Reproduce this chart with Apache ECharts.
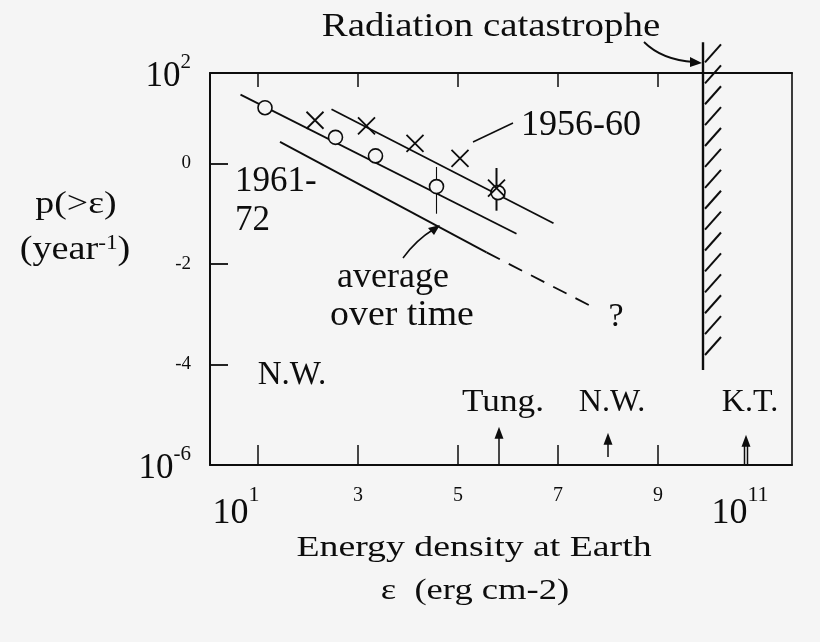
<!DOCTYPE html>
<html><head><meta charset="utf-8">
<script src="https://cdn.jsdelivr.net/npm/echarts@6/dist/echarts.min.js"></script>
<style>html,body{margin:0;padding:0;background:#f5f5f5}#c{width:820px;height:642px}</style>
</head><body><div id="c"></div>
<script>
// axis ranges, in decades (log10)
const xRange = [0.04, 11.68];
const yRange = [-6, 1.8];
const xTickValues = [1, 3, 5, 7, 9];
const xLabelValues = [1, 3, 5, 7, 9, 11];
const xLabelTexts = ['1', '3', '5', '7', '9', '11'];
const xLabelPowers = [true, false, false, false, false, true];
const yTickValues = [-4, -2, 0];
const yLabelValues = [-6, -4, -2, 0, 1.8];
const yLabelTexts = ['-6', '-4', '-2', '0', '2'];
const yLabelPowers = [true, false, false, false, true];

// observations (log10 energy density, log10 rate)
const circleX = [1.14, 2.55, 3.35, 4.57, 5.80];
const circleY = [1.11, 0.52, 0.15, -0.46, -0.58];
const crossX = [2.14, 3.17, 4.14, 5.04, 5.77];
const crossY = [0.86, 0.75, 0.40, 0.10, -0.49];
const errX = [4.57, 5.77];
const errLow = [-1.00, -0.94];
const errHigh = [-0.07, -0.09];
// fitted lines
const fit6172X = [0.65, 6.17], fit6172Y = [1.37, -1.40];
const fit5660X = [2.47, 6.91], fit5660Y = [1.08, -1.19];
const avgX = [1.44, 5.57], avgY = [0.43, -1.77];
const avgExtX = [5.57, 7.72], avgExtY = [-1.77, -2.87];
// radiation catastrophe barrier
const barrierX = 9.9, barrierTop = 2.41, barrierBottom = -4.11;
// events on the energy axis
const eventNames = ['Tung.', 'N.W.', 'K.T.'];
const eventX = [5.82, 8.0, 10.76];
const eventFrom = [-6, -5.84, -6];
const eventTo = [-5.24, -5.36, -5.40];
const eventDouble = [0, 0, 1];

const FONT = '"Liberation Serif", "Times New Roman", serif';
const INK = '#0d0d0d';
const BG = '#f5f5f5';

const zip = (a, b) => a.map((v, i) => [v, b[i]]);

const chart = echarts.init(document.getElementById('c'), null, {renderer: 'canvas'});

function xFmt(v) {
  const i = xLabelValues.indexOf(v);
  if (i < 0) return '';
  if (xLabelPowers[i]) return '{b|10}{' + (v === 1 ? 's1' : 's11') + '|' + xLabelTexts[i] + '}';
  return '{n|' + xLabelTexts[i] + '}';
}
function yFmt(v) {
  const i = yLabelValues.findIndex(u => Math.abs(u - v) < 1e-6);
  if (i < 0) return '';
  if (yLabelPowers[i]) return '{b|10}{s|' + yLabelTexts[i] + '}';
  return '{n|' + yLabelTexts[i] + '}';
}

function renderErr(params, api) {
  const a = api.coord([api.value(0), api.value(1)]);
  const b = api.coord([api.value(0), api.value(2)]);
  return {type: 'line', shape: {x1: a[0], y1: a[1], x2: b[0], y2: b[1]},
    style: {stroke: INK, lineWidth: params.dataIndex === 1 ? 2 : 1.1}};
}
function renderBarrier(params, api) {
  const top = api.coord([api.value(0), api.value(1)]);
  const bot = api.coord([api.value(0), api.value(2)]);
  const children = [{type: 'line', shape: {x1: top[0], y1: top[1], x2: bot[0], y2: bot[1]},
    style: {stroke: INK, lineWidth: 2.4}}];
  for (let y = bot[1] - 15; y >= top[1] + 18; y -= 20.9) {
    children.push({type: 'line', shape: {x1: top[0] + 2, y1: y, x2: top[0] + 18, y2: y - 18},
      style: {stroke: INK, lineWidth: 2}});
  }
  return {type: 'group', children};
}
function renderEvent(params, api) {
  const i = params.dataIndex;
  const x = api.value(0);
  const p0 = api.coord([x, api.value(1)]);
  const p1 = api.coord([x, api.value(2)]);
  const base = api.coord([x, yRange[0]]);
  const children = [];
  const shafts = api.value(3) ? [-1.5, 1.5] : [0];
  shafts.forEach(d => children.push({type: 'line',
    shape: {x1: p0[0] + d, y1: p0[1], x2: p1[0] + d, y2: p1[1] + 8},
    style: {stroke: INK, lineWidth: 1.5}}));
  children.push({type: 'polygon',
    shape: {points: [[p1[0], p1[1]], [p1[0] - 4.5, p1[1] + 12], [p1[0] + 4.5, p1[1] + 12]]},
    style: {fill: INK}});
  children.push({type: 'text', x: p1[0] + 4, y: base[1] - 62, scaleX: i === 0 ? 1.1 : 1,
    style: {text: eventNames[i], fontSize: 32, fontFamily: FONT, fill: INK,
      align: 'center', verticalAlign: 'middle'}});
  return {type: 'group', children};
}

function txt(text, x, y, fs, align, sx) {
  return {type: 'text', x: x, y: y, scaleX: sx || 1, z: 100,
    style: {text: text, fontSize: fs, fontFamily: FONT, fill: INK,
      align: align || 'center', verticalAlign: 'middle'}};
}

const axisCommon = {
  type: 'value', splitLine: {show: false},
  axisLine: {show: true, onZero: false, lineStyle: {color: INK, width: 2}}
};

const option = {
  backgroundColor: BG,
  animation: false,
  grid: {left: 210, right: 28, top: 73, bottom: 177},
  xAxis: [
    Object.assign({}, axisCommon, {
      position: 'bottom', min: xRange[0], max: xRange[1],
      axisTick: {show: true, inside: true, length: 20, customValues: xTickValues,
        lineStyle: {color: INK, width: 1.5}},
      axisLabel: {show: true, customValues: xLabelValues, margin: 19, formatter: xFmt,
        color: INK, fontFamily: FONT,
        rich: {
          b: {fontSize: 36, fontFamily: FONT, color: INK, verticalAlign: 'bottom', padding: [12, 0, 0, 0]},
          s1: {fontSize: 22, fontFamily: FONT, color: INK, verticalAlign: 'top', padding: [0, 44, 0, 0]},
          s11: {fontSize: 22, fontFamily: FONT, color: INK, verticalAlign: 'top', padding: [0, 36, 0, 0]},
          n: {fontSize: 20, fontFamily: FONT, color: INK, verticalAlign: 'top', padding: [2, 0, 0, 0]}
        }}
    }),
    Object.assign({}, axisCommon, {
      position: 'top', min: xRange[0], max: xRange[1],
      axisTick: {show: true, inside: true, length: 14, customValues: xTickValues,
        lineStyle: {color: INK, width: 1.5}},
      axisLabel: {show: false}
    })
  ],
  yAxis: [
    Object.assign({}, axisCommon, {
      position: 'left', min: yRange[0], max: yRange[1],
      axisTick: {show: true, inside: true, length: 18, customValues: yTickValues,
        lineStyle: {color: INK, width: 1.8}},
      axisLabel: {show: true, customValues: yLabelValues, margin: 19, formatter: yFmt,
        color: INK, fontFamily: FONT, align: 'right',
        rich: {
          b: {fontSize: 35, fontFamily: FONT, color: INK, verticalAlign: 'bottom', padding: [8, 0, 0, 0]},
          s: {fontSize: 21, fontFamily: FONT, color: INK, verticalAlign: 'top'},
          n: {fontSize: 19, fontFamily: FONT, color: INK}
        }}
    }),
    Object.assign({}, axisCommon, {
      position: 'right', min: yRange[0], max: yRange[1],
      axisLine: {show: true, onZero: false, lineStyle: {color: INK, width: 1.6}},
      axisTick: {show: false}, axisLabel: {show: false}
    })
  ],
  series: [
    {type: 'line', data: zip(fit6172X, fit6172Y), symbol: 'none', lineStyle: {color: INK, width: 1.8}, z: 3},
    {type: 'line', data: zip(fit5660X, fit5660Y), symbol: 'none', lineStyle: {color: INK, width: 1.8}, z: 3},
    {type: 'line', data: zip(avgX, avgY), symbol: 'none', lineStyle: {color: INK, width: 1.8}, z: 3},
    {type: 'line', data: zip(avgExtX, avgExtY), symbol: 'none',
      lineStyle: {color: INK, width: 1.8, type: [15, 10]}, z: 3},
    {type: 'custom', renderItem: renderErr, data: errX.map((x, i) => [x, errLow[i], errHigh[i]]), z: 4},
    {type: 'scatter', data: zip(circleX, circleY), symbol: 'circle', symbolSize: 14,
      itemStyle: {color: BG, borderColor: INK, borderWidth: 1.6, opacity: 1}, z: 5},
    {type: 'scatter', data: zip(crossX, crossY), symbol: 'path://M0,0L10,10M10,0L0,10', symbolSize: 17,
      itemStyle: {color: 'transparent', borderColor: INK, borderWidth: 1.8, opacity: 1}, z: 6},
    {type: 'custom', renderItem: renderBarrier, clip: false, data: [[barrierX, barrierTop, barrierBottom]], z: 7},
    {type: 'custom', renderItem: renderEvent, clip: false,
      data: eventX.map((x, i) => [x, eventFrom[i], eventTo[i], eventDouble[i]]), z: 7}
  ],
  graphic: [
    txt('Radiation catastrophe', 491, 27, 33, 'center', 1.18),
    {type: 'bezierCurve', z: 100, shape: {x1: 644, y1: 42, cpx1: 662, cpy1: 60, x2: 694, y2: 62},
      style: {stroke: INK, lineWidth: 1.8, fill: null}},
    {type: 'polygon', z: 100, shape: {points: [[702, 63], [690, 57], [690, 67]]}, style: {fill: INK}},
    txt('1956-60', 581, 126, 35, 'center', 1.03),
    {type: 'line', z: 100, shape: {x1: 473, y1: 142, x2: 513, y2: 123}, style: {stroke: INK, lineWidth: 1.5}},
    txt('1961-', 235, 182, 35, 'left'),
    txt('72', 235, 221, 35, 'left'),
    txt('average', 393, 278, 36, 'center'),
    txt('over time', 402, 316, 36, 'center', 1.05),
    {type: 'bezierCurve', z: 100, shape: {x1: 403, y1: 258, cpx1: 416, cpy1: 240, x2: 434, y2: 229},
      style: {stroke: INK, lineWidth: 1.5, fill: null}},
    {type: 'polygon', z: 100, shape: {points: [[440, 225], [428, 228], [434, 235]]}, style: {fill: INK}},
    txt('?', 616, 317, 34, 'center'),
    txt('N.W.', 292, 375, 33, 'center'),
    txt('p(>\u03b5)', 76, 205, 31, 'center', 1.22),
    {type: 'text', x: 75, y: 250, z: 100, scaleX: 1.16,
      style: {text: '{a|(year}{s|-1}{a|)}', align: 'center', verticalAlign: 'middle',
        rich: {a: {fontSize: 33, fontFamily: FONT, fill: INK, color: INK, verticalAlign: 'bottom'},
               s: {fontSize: 20, fontFamily: FONT, fill: INK, color: INK, verticalAlign: 'top'}}}},
    txt('Energy density at Earth', 474, 548, 30, 'center', 1.26),
    txt('\u03b5  (erg cm-2)', 475, 591, 30, 'center', 1.22)
  ]
};
chart.setOption(option);
</script></body></html>
